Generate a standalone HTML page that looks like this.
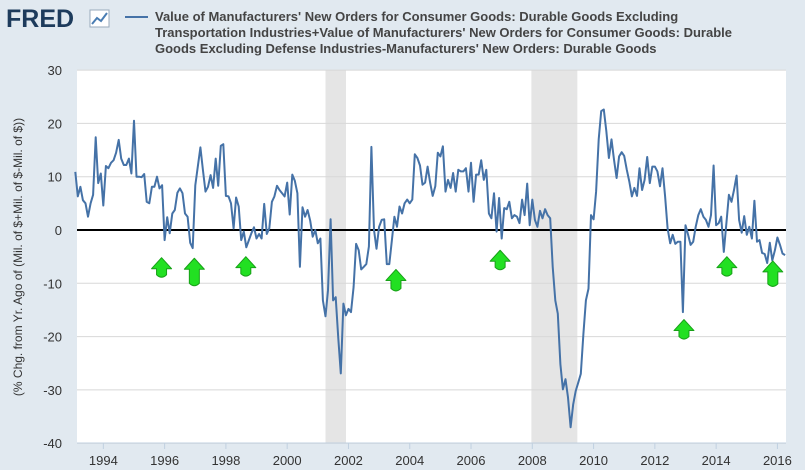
<!DOCTYPE html>
<html><head><meta charset="utf-8"><style>
body{margin:0;background:#e1e9f0;font-family:"Liberation Sans",sans-serif;}
#wrap{position:relative;width:805px;height:470px;overflow:hidden;background:#e1e9f0;}
</style></head><body>
<div id="wrap">
<svg id="chart" width="805" height="470">
<g>
<text x="6" y="27" font-size="25" font-weight="bold" fill="#1d3b5c" font-family="Liberation Sans, sans-serif">FRED</text>
<rect x="90" y="10" width="19" height="17" fill="#fff" stroke="#9ab" stroke-width="1"/>
<polyline points="92,24 97,18 101,21 107,13" fill="none" stroke="#4a7db3" stroke-width="2"/>
</g>
<line x1="125" y1="17" x2="148" y2="17" stroke="#4572a7" stroke-width="2"/>
<g font-size="13" font-weight="bold" fill="#444">
<text x="155" y="21">Value of Manufacturers' New Orders for Consumer Goods: Durable Goods Excluding</text>
<text x="155" y="37">Transportation Industries+Value of Manufacturers' New Orders for Consumer Goods: Durable</text>
<text x="155" y="53">Goods Excluding Defense Industries-Manufacturers' New Orders: Durable Goods</text>
</g>
<rect x="77" y="70" width="709" height="373" fill="#fff"/>
<g id="rec"></g><g id="grid"></g><g id="axes"></g><g id="series"></g><g id="arrows"></g>
<text transform="translate(22,257) rotate(-90)" text-anchor="middle" font-size="12" fill="#333">(% Chg. from Yr. Ago of (Mil. of $+Mil. of $-Mil. of $))</text>
</svg>
</div>
<script>
const startYear = 1993 + 1/12;
const values = [10.9,6.3,8.1,5.6,5,2.5,5,6.6,17.4,8.8,10.6,4.6,12,11.6,12.6,13.1,14.5,16.9,13.4,12.2,12.2,13.4,10.6,20.5,10,10,9.9,10.5,5.3,5,8.1,8.1,10,7.8,8.4,-1.9,2.4,-0.6,3.1,3.75,7,7.8,6.9,3.1,2.5,-2.4,-3.4,8.4,11.9,15.5,11.3,7.2,8.1,10.3,7.9,13.4,8.3,15.8,16.1,6.4,6.3,5,0.3,6.1,4.4,-1.9,-0.3,-3.25,-1.9,-0.6,0.5,-1.6,-0.75,-1.6,4.9,-0.75,0.3,5.3,6.3,8.3,7.5,6.9,6.3,8.9,2.9,10.4,9.25,6.9,-6.9,4.25,2.5,3.75,1.75,-1.25,0,-2.5,
-1.6,-13.2,-16.2,-11.3,2,-13.2,-12.6,-20.1,-26.9,-13.8,-16,-14.8,-15.4,-10.7,-2.6,-3.8,-7.4,-6.9,-6.4,-3.1,15.6,0,-3.5,0.6,1.9,2,-6.4,-6.4,-1.9,2.5,0.6,4.4,3.1,5,5.7,5,5.7,14.2,13.5,12.1,8.5,8.9,11.9,8.8,6.4,8.2,14.5,13.8,15.7,7.2,9.4,7.9,10.7,7.2,11.3,11,11,11.6,7.2,12.6,5.3,10.4,10.4,13.1,9.4,11.3,3.1,2.2,6.9,-0.3,6,-1.6,4.1,3.9,5.3,2.2,2.8,2.5,1.3,5.7,2.8,8.7,0.9,5.7,1.9,0.6,3.6,2.2,3.9,2.8,2.2,-6.9,-13.2,-15.7,
-25.2,-29.9,-28,-31.4,-37,-32.7,-30.2,-28.6,-27,-19.5,-13.2,-11,2.8,2,7.2,17,22.3,22.6,18.6,13.5,17,13.2,9.75,13.8,14.6,13.9,11.3,9.1,6.3,7.9,6.4,11.6,7.5,9.4,13.7,8.8,11.9,11.9,11,8.2,11.6,6.3,0.3,-2.5,-0.9,-2.6,-2.2,-2.2,-15.4,0.9,-0.9,-2.8,-2.2,0.6,2.8,3.9,2.5,1.9,0.6,2.8,12.1,0.9,1.3,2.5,-4.1,1.3,6.6,5.3,7.5,10.2,1.9,-0.5,2.6,-0.9,0.6,-1.6,5.5,-2.2,-1.9,-4.3,-4.5,-6.2,-2.4,-5.7,-3.8,-1.4,-2.8,-4.4,-4.7];
const yTicks = [30,20,10,0,-10,-20,-30,-40];
const xTicks = [1994,1996,1998,2000,2002,2004,2006,2008,2010,2012,2014,2016];
const recStart = [2001.25,2007.97];
const recEnd = [2001.92,2009.47];
const arrowYears = [1995.9,1996.97,1998.65,2003.55,2006.95,2012.95,2014.35,2015.85];
const arrowVals = [-5.2,-5.3,-5,-7.4,-3.8,-16.8,-5,-5.8];
const arrowLen = [20,28,20,22,20,20,20,26];

const NS='http://www.w3.org/2000/svg';
const X0=77,X1=786,Y0=70,Y1=443;
const x = yr => 72.7 + (yr-1993)*30.64;
const y = v => 230 - v*5.33;
function mk(tag,attrs,parent){const e=document.createElementNS(NS,tag);for(const k in attrs)e.setAttribute(k,attrs[k]);document.getElementById(parent).appendChild(e);return e;}

recStart.forEach((s,i)=>{
  const r=mk('rect',{x:x(s),y:Y0,width:x(recEnd[i])-x(s),height:Y1-Y0,fill:'#e5e5e5'},'rec');
  
  
});
yTicks.forEach(t=>{
  const l=mk('line',{x1:X0,x2:X1,y1:y(t),y2:y(t),stroke:'#d8d8d8','stroke-width':1},'grid');
  
  
  const tx=mk('text',{x:62,y:y(t)+5,'text-anchor':'end','font-size':13,fill:'#333'},'axes');
  tx.textContent=t;
  
  
});
const ax=mk('line',{x1:X0,x2:X1,y1:Y1,y2:Y1,stroke:'#c0d0e0','stroke-width':1},'axes');


xTicks.forEach(t=>{
  const l=mk('line',{x1:x(t),x2:x(t),y1:Y1,y2:Y1+6,stroke:'#c0d0e0'},'axes');
  
  
  const tx=mk('text',{x:x(t),y:465,'text-anchor':'middle','font-size':13,fill:'#333'},'axes');
  tx.textContent=t;
  
  
});
const zl=mk('line',{x1:X0,x2:X1,y1:y(0),y2:y(0),stroke:'#000','stroke-width':2},'grid');


const pts=values.map((v,i)=>x(startYear+i/12).toFixed(1)+','+y(v).toFixed(1)).join(' ');
const pl=mk('polyline',{points:pts,fill:'none',stroke:'#4572a7','stroke-width':2,'stroke-linejoin':'round'},'series');


arrowYears.forEach((a,i)=>{
  const cx=x(a),ty=y(arrowVals[i]),hy=ty+11,by=ty+arrowLen[i];
  const g=mk('path',{d:`M${cx},${ty} L${cx+10},${hy} L${cx+5},${hy} L${cx+5},${by-3} Q${cx},${by+2} ${cx-5},${by-3} L${cx-5},${hy} L${cx-10},${hy} Z`,fill:'#22e022',stroke:'#18a018','stroke-width':1,'stroke-linejoin':'round'},'arrows');
  
  
});
</script>
</body></html>
